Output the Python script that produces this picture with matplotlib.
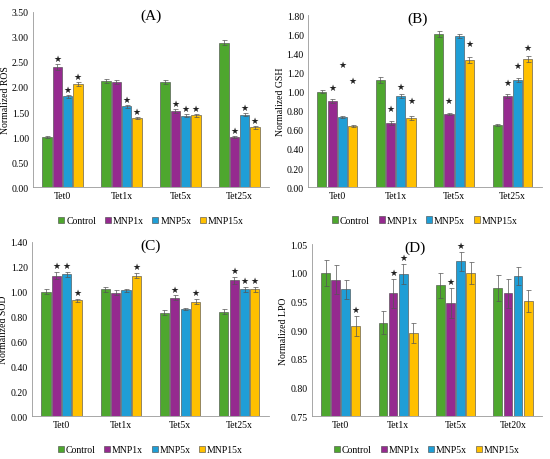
import numpy as np
import matplotlib.pyplot as plt

groups = ["Control", "MNP1x", "MNP5x", "MNP15x"]
colors = ["#4ea72e", "#952a8f", "#1f9ed6", "#ffc000"]

# panel A - ROS
cats_a = ["Tet0", "Tet1x", "Tet5x", "Tet25x"]
ros = [[1.00, 2.12, 2.09, 2.88],
       [2.40, 2.10, 1.52, 1.00],
       [1.82, 1.62, 1.43, 1.45],
       [2.06, 1.38, 1.44, 1.20]]
ros_err = [[0.02, 0.04, 0.04, 0.05],
           [0.06, 0.04, 0.04, 0.02],
           [0.03, 0.03, 0.03, 0.03],
           [0.04, 0.02, 0.03, 0.03]]
ros_star = [[0, 0, 0, 0], [1, 0, 1, 1], [1, 1, 1, 1], [1, 1, 1, 1]]

# panel B - GSH (stars sit at fixed heights in the original)
cats_b = ["Tet0", "Tet1x", "Tet5x", "Tet25x"]
gsh = [[1.00, 1.12, 1.60, 0.65],
       [0.90, 0.67, 0.77, 0.95],
       [0.73, 0.95, 1.58, 1.12],
       [0.64, 0.72, 1.33, 1.34]]
gsh_err = [[0.02, 0.03, 0.03, 0.01],
           [0.02, 0.02, 0.01, 0.02],
           [0.01, 0.02, 0.02, 0.02],
           [0.01, 0.02, 0.03, 0.03]]
gsh_star_y = [[None, None, None, None],
              [1.04, 0.82, 0.91, 1.10],
              [1.28, 1.05, None, 1.27],
              [1.12, 0.91, 1.50, 1.46]]

# panel C - SOD
cats_c = ["Tet0", "Tet1x", "Tet5x", "Tet25x"]
sod = [[1.00, 1.02, 0.83, 0.84],
       [1.13, 0.99, 0.95, 1.09],
       [1.14, 1.01, 0.86, 1.02],
       [0.93, 1.13, 0.92, 1.02]]
sod_err = [[0.02, 0.02, 0.02, 0.02],
           [0.03, 0.02, 0.02, 0.03],
           [0.02, 0.01, 0.01, 0.02],
           [0.01, 0.02, 0.02, 0.02]]
sod_star = [[0, 0, 0, 0], [1, 0, 1, 1], [1, 0, 0, 1], [1, 1, 1, 1]]

# panel D - LPO
cats_d = ["Tet0", "Tet1x", "Tet5x", "Tet20x"]
lpo = [[1.000, 0.913, 0.978, 0.974],
       [0.988, 0.964, 0.947, 0.964],
       [0.971, 0.998, 1.020, 0.995],
       [0.907, 0.895, 1.000, 0.951]]
lpo_err = [[0.023, 0.020, 0.022, 0.023],
           [0.025, 0.025, 0.026, 0.026],
           [0.017, 0.017, 0.016, 0.016],
           [0.017, 0.017, 0.019, 0.019]]
lpo_star = [[0, 0, 0, 0], [0, 1, 1, 0], [0, 1, 1, 0], [1, 0, 0, 0]]

plt.rcParams["font.family"] = ["Liberation Serif", "DejaVu Serif"]

fig = plt.figure(figsize=(5.5, 4.6), dpi=100)
boxes = [[0.060, 0.591, 0.429, 0.381],
         [0.560, 0.591, 0.425, 0.374],
         [0.058, 0.093, 0.431, 0.379],
         [0.567, 0.093, 0.418, 0.374]]

panels = [
    ("(A)", cats_a, ros, ros_err, ros_star, None, "Normalized ROS", (0, 3.5), 0.5, 0.11),
    ("(B)", cats_b, gsh, gsh_err, None, gsh_star_y, "Normalized GSH", (0, 1.8), 0.2, 0.05),
    ("(C)", cats_c, sod, sod_err, sod_star, None, "Normalized SOD", (0, 1.4), 0.2, 0.05),
    ("(D)", cats_d, lpo, lpo_err, lpo_star, None, "Normalized LPO", (0.75, 1.05), 0.05, 0.012),
]
title_x = [0.5, 0.47, 0.5, 0.45]

w = 0.155
step = 0.175
for k, (box, (title, cats, vals, errs, stars, star_y, ylab, ylim, ystep, pad)) in enumerate(zip(boxes, panels)):
    ax = fig.add_axes(box)
    x = np.arange(len(cats))
    for i, g in enumerate(groups):
        xs = x + (i - 1.5) * step
        b0 = ylim[0]
        hts = np.array(vals[i]) - b0
        ax.bar(xs, hts, w, bottom=b0, color=colors[i], edgecolor="#444444",
               linewidth=0.4, label=g,
               yerr=errs[i], error_kw=dict(ecolor="#555555", elinewidth=0.5, capsize=1.8, capthick=0.5))
        for j in range(len(cats)):
            sy = None
            if star_y is not None:
                sy = star_y[i][j]
            elif stars[i][j]:
                sy = vals[i][j] + errs[i][j] + pad
            if sy is not None:
                ax.text(xs[j], sy, "★", ha="center", va="center", fontsize=6.5,
                        family="DejaVu Sans", color="#222222")
    ax.set_xlim(-0.5, len(cats) - 0.5)
    ax.set_ylim(*ylim)
    ax.set_yticks(np.arange(ylim[0], ylim[1] + ystep / 2, ystep))
    ax.yaxis.set_major_formatter(plt.FormatStrFormatter("%.2f"))
    ax.set_xticks(x)
    ax.set_xticklabels(cats)
    ax.tick_params(labelsize=7, length=0, pad=3)
    ax.set_ylabel(ylab, fontsize=7, labelpad=1.5)
    for s in ["top", "right"]:
        ax.spines[s].set_visible(False)
    for s in ["left", "bottom"]:
        ax.spines[s].set_color("#999999")
        ax.spines[s].set_linewidth(0.6)
    ax.text(title_x[k], 0.98, title, transform=ax.transAxes, ha="center", va="center", fontsize=11)
    ax.legend(loc="upper center", bbox_to_anchor=(0.5, -0.145), ncol=4, frameon=False,
              fontsize=7, handlelength=0.6, handleheight=0.6, handletextpad=0.2,
              columnspacing=0.9, borderaxespad=0)

fig.savefig("out.png", dpi=100)
